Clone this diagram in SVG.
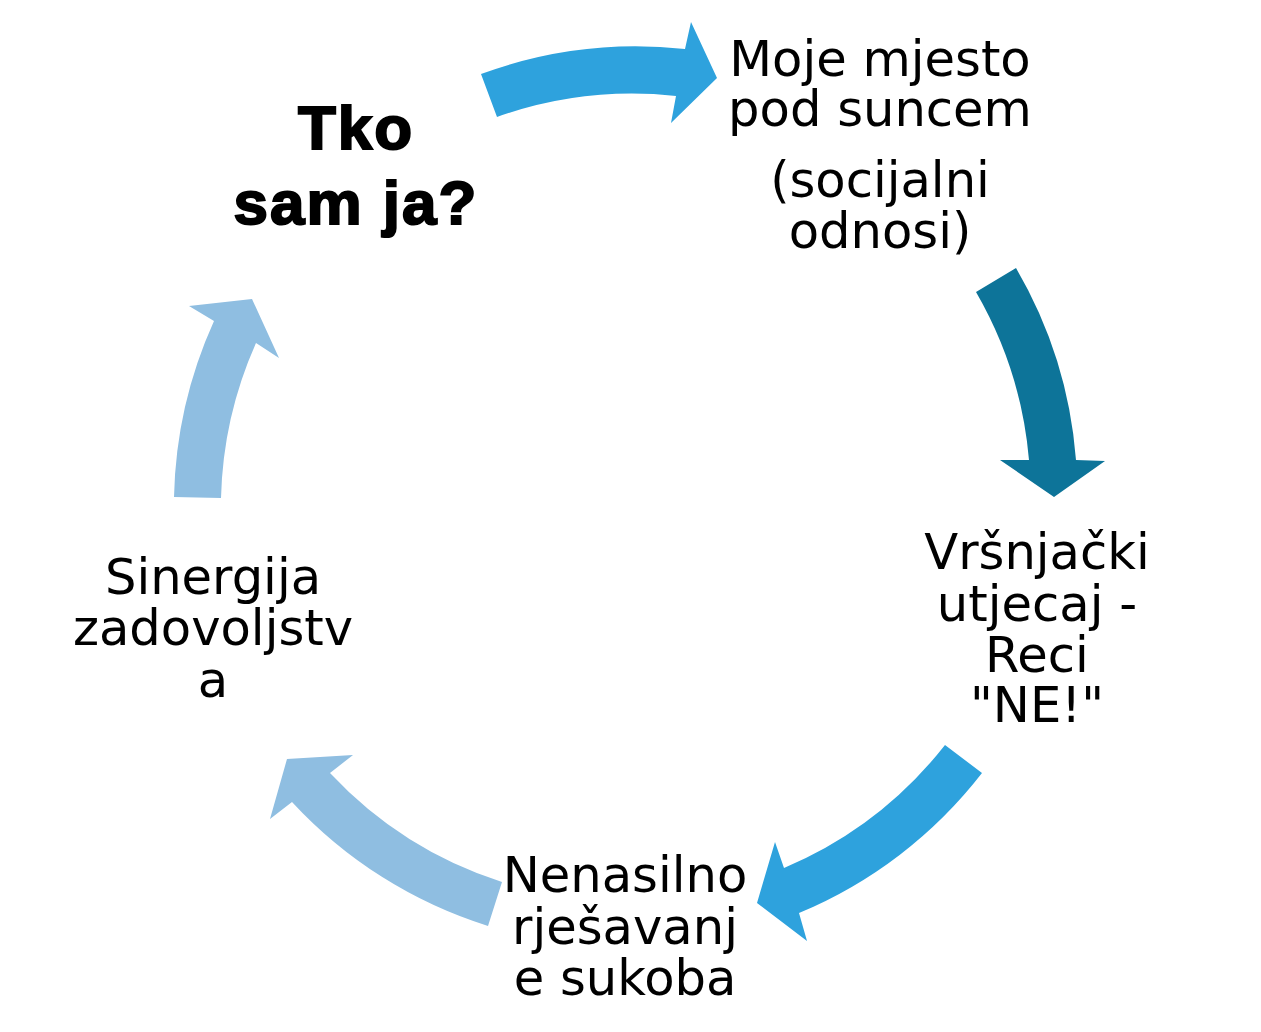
<svg xmlns="http://www.w3.org/2000/svg" width="1261" height="1032" viewBox="0 0 1261 1032">
<style>
.t{font-family:"DejaVu Sans","Liberation Sans",sans-serif;font-size:49.6px;fill:#000;text-anchor:middle}
.b{font-family:"Liberation Sans","DejaVu Sans",sans-serif;font-size:62px;font-weight:bold;fill:#000;stroke:#000;stroke-width:2;letter-spacing:2px;text-anchor:middle}
.a1{fill:#2EA2DD}
.a2{fill:#0D7499}
.a3{fill:#8FBEE1}
</style>
<rect width="1261" height="1032" fill="#fff"/>
<g id="connectors">
<path class="a1" d="M481,74 A450,450 0 0 1 685,49 L691,22 L717,78 L671,123 L676,96 A405,405 0 0 0 497,117 Z"/>
<path class="a2" d="M1016,268 A450,450 0 0 1 1076,460 L1105,461 L1054,497 L1000,460 L1029,460 A405,405 0 0 0 976,292 Z"/>
<path class="a1" d="M982,773 A450,450 0 0 1 799,913 L807,941 L757,903 L775,842 L784,868 A405,405 0 0 0 945,745 Z"/>
<path class="a3" d="M488,926 A450,450 0 0 1 292,802 L270,819 L287,759 L353,755 L330,773 A405,405 0 0 0 502,882 Z"/>
<path class="a3" d="M174,497 A450,450 0 0 1 214,321 L189,306 L252,299 L279,358 L256,343 A405,405 0 0 0 221,498 Z"/>
</g>
<g id="node1">
<text class="b" x="356" y="149">Tko</text>
<text class="b" x="356" y="224">sam ja?</text>
</g>
<g id="node2">
<text class="t" x="880" y="76">Moje mjesto</text>
<text class="t" x="880" y="126">pod suncem</text>
<text class="t" x="880" y="197">(socijalni</text>
<text class="t" x="880" y="248">odnosi)</text>
</g>
<g id="node3">
<text class="t" x="1037" y="569">Vršnjački</text>
<text class="t" x="1037" y="621">utjecaj -</text>
<text class="t" x="1037" y="672">Reci</text>
<text class="t" x="1037" y="722">"NE!"</text>
</g>
<g id="node4">
<text class="t" x="625" y="892">Nenasilno</text>
<text class="t" x="625" y="944">rješavanj</text>
<text class="t" x="625" y="995">e sukoba</text>
</g>
<g id="node5">
<text class="t" x="213" y="594">Sinergija</text>
<text class="t" x="213" y="645">zadovoljstv</text>
<text class="t" x="213" y="697">a</text>
</g>
</svg>
